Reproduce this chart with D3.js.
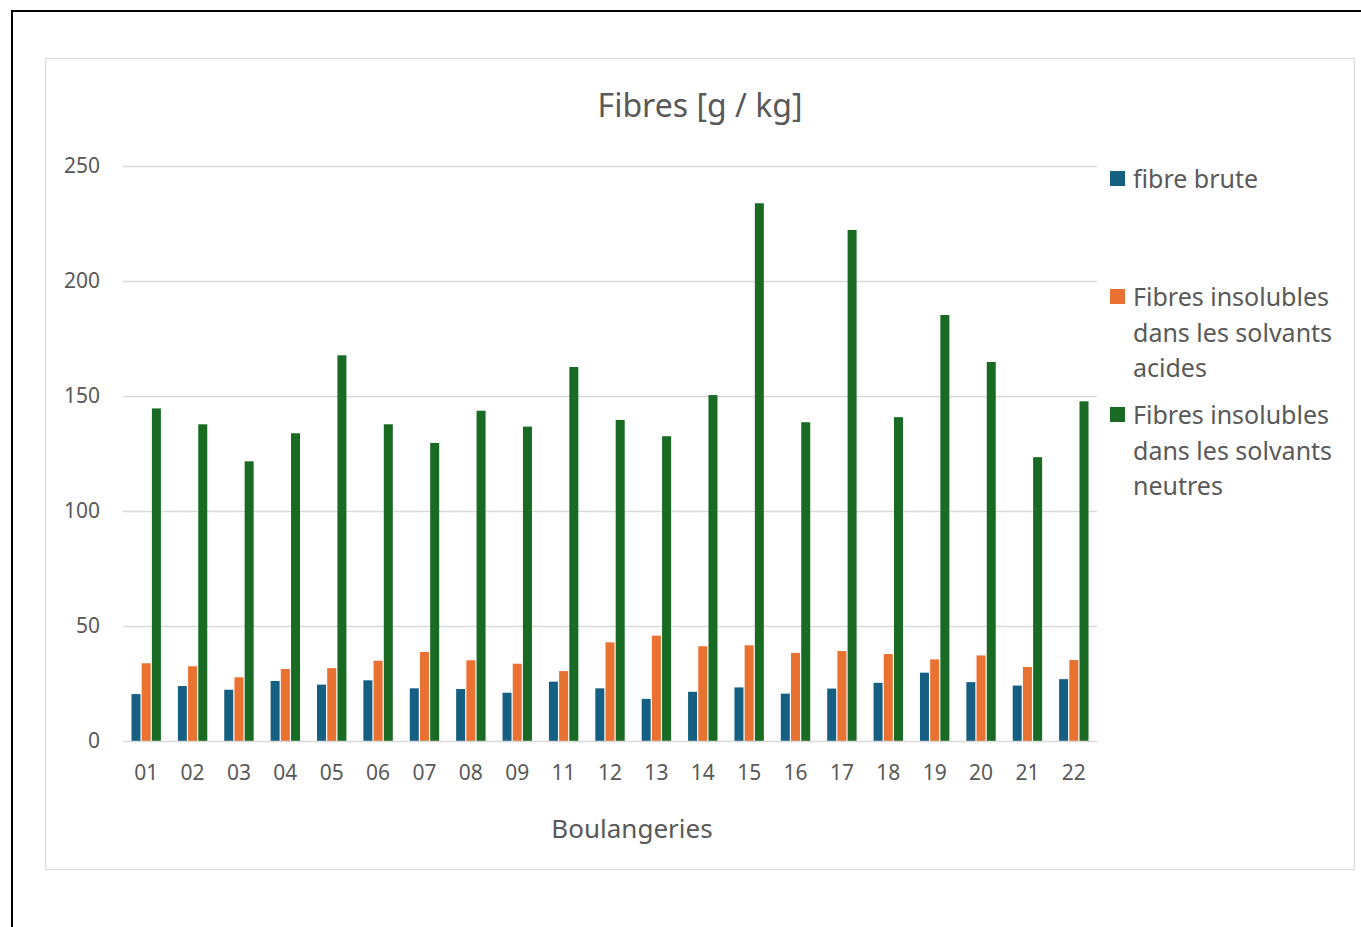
<!DOCTYPE html>
<html>
<head>
<meta charset="utf-8">
<script src="https://cdn.jsdelivr.net/npm/d3@7"></script>
<style>
  html, body { margin: 0; padding: 0; background: #ffffff; }
  svg { display: block; }
  text { font-family: "Noto Sans", "Open Sans", sans-serif; fill: #595959; }
</style>
</head>
<body>
<svg id="chart" width="1361" height="927"></svg>
<script>
// Bakeries (Boulangeries) along the x axis
const boulangeries = ["01","02","03","04","05","06","07","08","09","11","12","13","14","15","16","17","18","19","20","21","22"];

// Fibre contents in g / kg
const fibreBrute = [20.4, 23.9, 22.3, 26.1, 24.5, 26.4, 22.9, 22.6, 21.0, 25.8, 22.9, 18.3, 21.4, 23.3, 20.6, 22.8, 25.3, 29.7, 25.6, 24.1, 26.9];
const fibresAcides = [33.8, 32.5, 27.7, 31.3, 31.7, 34.9, 38.7, 35.1, 33.6, 30.4, 42.9, 45.8, 41.2, 41.6, 38.3, 39.1, 37.8, 35.5, 37.2, 32.2, 35.2];
const fibresNeutres = [144.6, 137.7, 121.6, 133.8, 167.7, 137.7, 129.6, 143.6, 136.7, 162.6, 139.6, 132.5, 150.4, 233.8, 138.6, 222.2, 140.8, 185.2, 164.8, 123.4, 147.7];

const seriesNames = ["fibre brute", "Fibres insolubles dans les solvants acides", "Fibres insolubles dans les solvants neutres"];
const seriesColors = ["#156082", "#e97132", "#196b24"];
const yTicks = [0, 50, 100, 150, 200, 250];

const series = [fibreBrute, fibresAcides, fibresNeutres];

const svg = d3.select("#chart");

// page frame lines
svg.append("line").attr("x1", 12).attr("y1", 11).attr("x2", 1361).attr("y2", 11)
  .attr("stroke", "#000").attr("stroke-width", 2);
svg.append("line").attr("x1", 12).attr("y1", 10).attr("x2", 12).attr("y2", 927)
  .attr("stroke", "#000").attr("stroke-width", 2);

// chart area border
svg.append("rect").attr("x", 45.5).attr("y", 58.5).attr("width", 1309).attr("height", 811)
  .attr("fill", "#fff").attr("stroke", "#d9d9d9").attr("stroke-width", 1);

const plot = { left: 123, right: 1097, top: 166, bottom: 741 };

const x = d3.scaleBand().domain(boulangeries).range([plot.left, plot.right]).paddingInner(0.34).paddingOuter(0.17);
const xs = d3.scaleBand().domain(d3.range(series.length)).range([0, x.bandwidth()]).paddingInner(0.0);
const y = d3.scaleLinear().domain([0, 250]).range([plot.bottom, plot.top]);

// gridlines
svg.append("g").selectAll("line").data(yTicks.filter(d => d > 0)).join("line")
  .attr("x1", plot.left).attr("x2", plot.right)
  .attr("y1", d => Math.round(y(d)) + 0.5).attr("y2", d => Math.round(y(d)) + 0.5)
  .attr("stroke", "#d9d9d9").attr("stroke-width", 1.5);

// y axis labels
const yAxis = d3.axisLeft(y).tickValues(yTicks).tickSize(0).tickPadding(0);
const gy = svg.append("g").attr("transform", `translate(${plot.left - 23},0)`).call(yAxis);
gy.select(".domain").remove();
gy.selectAll("text").attr("font-size", 21).attr("fill", "#595959")
  .style("font-family", '"Noto Sans", sans-serif');

// bars
const groups = svg.append("g").selectAll("g").data(boulangeries).join("g")
  .attr("transform", d => `translate(${x(d)},0)`);
groups.selectAll("rect")
  .data((d, i) => series.map((s, k) => ({ k, v: s[i] })))
  .join("rect")
  .attr("x", d => xs(d.k) + 0.6)
  .attr("width", xs.bandwidth() - 1.2)
  .attr("y", d => y(d.v))
  .attr("height", d => y(0) - y(d.v))
  .attr("fill", d => seriesColors[d.k]);

// baseline
svg.append("line").attr("x1", plot.left).attr("x2", plot.right)
  .attr("y1", plot.bottom + 0.5).attr("y2", plot.bottom + 0.5)
  .attr("stroke", "#d9d9d9").attr("stroke-width", 1.5);

// x axis labels
const xAxis = d3.axisBottom(x).tickSize(0).tickPadding(0);
const gx = svg.append("g").attr("transform", `translate(0,${plot.bottom + 32})`).call(xAxis);
gx.select(".domain").remove();
gx.selectAll("text").attr("font-size", 21).attr("fill", "#595959").attr("dy", "0.35em")
  .style("font-family", '"Noto Sans", sans-serif');

// title
svg.append("text").attr("x", 700).attr("y", 117).attr("text-anchor", "middle")
  .attr("font-size", 32).text("Fibres [g / kg]");

// x axis title
svg.append("text").attr("x", 632).attr("y", 838).attr("text-anchor", "middle")
  .attr("font-size", 26).text("Boulangeries");

// legend
const legendItems = [
  { lines: ["fibre brute"], y: 179 },
  { lines: ["Fibres insolubles", "dans les solvants", "acides"], y: 297 },
  { lines: ["Fibres insolubles", "dans les solvants", "neutres"], y: 415 }
];
const legend = svg.append("g");
legendItems.forEach((item, i) => {
  legend.append("rect").attr("x", 1110).attr("y", item.y - 8).attr("width", 15).attr("height", 15)
    .attr("fill", seriesColors[i]);
  const t = legend.append("text").attr("x", 1133).attr("y", item.y).attr("font-size", 25);
  item.lines.forEach((ln, j) => {
    t.append("tspan").attr("x", 1133).attr("dy", j === 0 ? "0.35em" : 35.8).text(ln);
  });
});
</script>
</body>
</html>
